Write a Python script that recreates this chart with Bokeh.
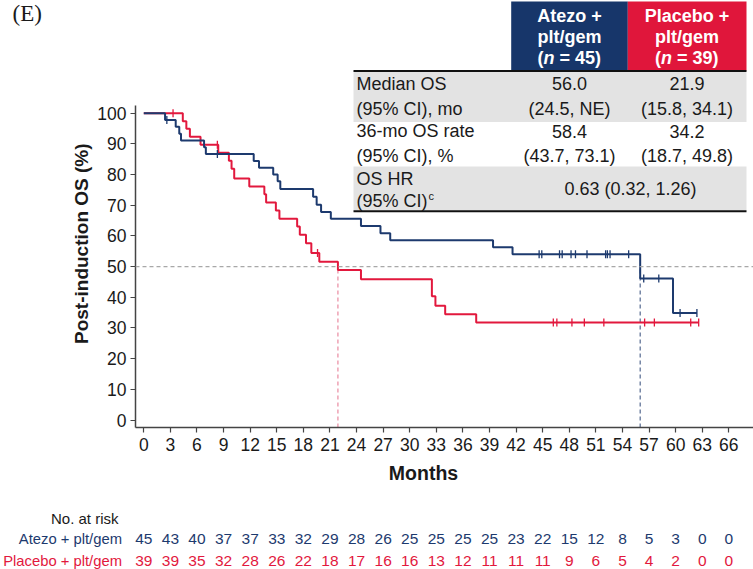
import math
from bokeh.plotting import figure
from bokeh.layouts import column, row
from bokeh.models import Range1d, Label, FixedTicker, Span
from bokeh.embed import file_html
from bokeh.resources import INLINE

# ---------------- data ----------------
month_ticks = list(range(0, 67, 3))
pct_ticks = list(range(0, 101, 10))

atezo_times = [0, 2.4, 3.6, 4.0, 4.2, 6.8, 7.0, 12.4, 13.0, 14.6, 15.1, 15.4, 19.1, 19.5,
               20.0, 21.1, 24.5, 26.7, 27.8, 39.4, 41.6, 56.0, 59.7]
atezo_surv = [100, 97.8, 95.6, 93.3, 91.1, 88.9, 86.7, 84.4, 82.2, 80.0, 77.8, 75.3, 72.8, 70.2,
              67.8, 65.6, 63.2, 60.9, 58.6, 56.3, 54.0, 46.1, 34.9]
atezo_last = 62.4
atezo_censor = [2.6, 8.3, 44.6, 44.9, 46.9, 47.2, 48.2, 48.7, 50.0, 52.1, 52.3, 52.6, 54.7,
                56.4, 58.1, 60.5, 62.4]

placebo_times = [0, 4.4, 4.8, 5.2, 6.4, 8.4, 9.6, 9.9, 10.2, 11.9, 13.6, 13.8, 14.9, 15.3,
                 17.3, 17.6, 18.3, 18.9, 19.8, 21.9, 24.5, 32.5, 32.9, 34.0, 37.5]
placebo_surv = [100, 97.4, 94.9, 92.3, 89.7, 87.1, 84.5, 81.9, 78.7, 76.1, 73.6, 70.9, 68.3, 65.6,
                63.1, 60.4, 57.6, 54.4, 51.6, 48.9, 45.9, 40.3, 37.2, 34.5, 31.8]
placebo_last = 62.6
placebo_censor = [3.3, 8.3, 19.6, 46.2, 46.6, 48.3, 49.7, 51.9, 56.5, 57.6, 61.7, 62.6]

atezo_median = 56.0
placebo_median = 21.9

atezo_risk = [45, 43, 40, 37, 37, 33, 32, 29, 28, 26, 25, 25, 25, 25, 23, 22, 15, 12, 8, 5, 3, 0, 0]
placebo_risk = [39, 39, 35, 32, 28, 26, 22, 18, 17, 16, 16, 13, 12, 11, 11, 11, 9, 6, 5, 4, 2, 0, 0]

arm_names = ["Atezo + plt/gem", "Placebo + plt/gem"]
header_line1 = ["Atezo +", "Placebo +"]
header_line2 = ["plt/gem", "plt/gem"]
header_n = [45, 39]
row_labels = [("Median OS", "(95% CI), mo"), ("36-mo OS rate", "(95% CI), %"), ("OS HR", "(95% CI)")]
median_os = ["56.0", "21.9"]
median_ci = ["(24.5, NE)", "(15.8, 34.1)"]
rate36 = ["58.4", "34.2"]
rate36_ci = ["(43.7, 73.1)", "(18.7, 49.8)"]
hr_text = "0.63 (0.32, 1.26)"

# ---------------- styling / layout ----------------
BLUE = "#1d3a6e"
RED = "#e2183d"
HDR_BLUE = "#17366a"
HDR_RED = "#e0163b"
GRAY = "#e3e3e3"
TXT = "#1a1a1a"
SANS = "Liberation Sans"

W, H = 753, 569


def X(px):  # page pixel -> months
    return (px - 143.3) / 8.864


def Y(py):  # page pixel -> percent
    return 100 - (py - 112.7) / 3.068


L = 94              # width of left strip (panel tag + y title)
FRAME_LEFT = 135
FRAME_BOTTOM = 427
H1 = 460            # height of top row
mbl = FRAME_LEFT - L
mbb = H1 - FRAME_BOTTOM
x_lo, x_hi = X(FRAME_LEFT), X(W)
y_lo, y_hi = Y(FRAME_BOTTOM), Y(0)


def bare(width, height, xr, yr):
    f = figure(width=width, height=height, output_backend="svg", toolbar_location=None,
               x_range=xr, y_range=yr, x_axis_type=None, y_axis_type=None,
               min_border=0, min_border_left=0, min_border_right=0,
               min_border_top=0, min_border_bottom=0)
    f.outline_line_color = None
    f.grid.visible = False
    return f


def text(f, x, y, s, size=18, color=TXT, align="left", style="normal", font=SANS, angle=0.0):
    f.add_layout(Label(x=x, y=y, text=s, text_font=font, text_font_size=f"{size}px",
                       text_color=color, text_align=align, text_baseline="middle",
                       text_font_style=style, angle=angle))


# ---------------- main plot ----------------
p = figure(width=W - L, height=H1, output_backend="svg", toolbar_location=None,
           x_range=Range1d(x_lo, x_hi), y_range=Range1d(y_lo, y_hi),
           min_border_left=mbl, min_border_right=0, min_border_top=0, min_border_bottom=mbb)
p.outline_line_color = None
p.grid.visible = False

for ax in (p.xaxis[0], p.yaxis[0]):
    ax.axis_line_color = "#444444"
    ax.axis_line_width = 1.5
    ax.major_tick_line_color = "#444444"
    ax.major_tick_line_width = 1.2
    ax.major_tick_in = 0
    ax.major_tick_out = 5
    ax.minor_tick_line_color = None
    ax.major_label_text_font = SANS
    ax.major_label_text_font_size = "17.5px"
    ax.major_label_text_color = TXT
p.xaxis.ticker = FixedTicker(ticks=month_ticks)
p.yaxis.ticker = FixedTicker(ticks=pct_ticks)
p.yaxis.bounds = (y_lo, Y(105))
p.xaxis.major_label_standoff = 5
p.yaxis.major_label_standoff = 4

# reference lines
p.add_layout(Span(location=50, dimension="width", line_color="#a8a8a8", line_width=1.2,
                  line_dash="4 3"))
p.segment(x0=[placebo_median], y0=[y_lo], x1=[placebo_median], y1=[50],
          line_color="#e98aa0", line_width=1.2, line_dash="4 3")
p.segment(x0=[atezo_median], y0=[y_lo], x1=[atezo_median], y1=[50],
          line_color="#52678f", line_width=1.2, line_dash="4 3")


def surv_at(times, surv, t):
    s = surv[0]
    for ti, si in zip(times, surv):
        if ti <= t:
            s = si
    return s


for times, surv, last, cens, col in [
    (placebo_times, placebo_surv, placebo_last, placebo_censor, RED),
    (atezo_times, atezo_surv, atezo_last, atezo_censor, BLUE),
]:
    p.step(x=times + [last], y=surv + [surv[-1]], mode="after", line_color=col, line_width=2)
    p.scatter(x=cens, y=[surv_at(times, surv, c) for c in cens], marker="dash",
              angle=math.pi / 2, size=8, line_color=col, line_width=1.3)

# summary table (page-pixel positions mapped through X / Y)
tl, tr = 353, 746
col_edges = [510.7, 627.3, 746]
col_centers = [569, 686.5]
p.quad(left=[X(col_edges[0])], right=[X(col_edges[1])], top=[Y(1)], bottom=[Y(70)],
       fill_color=HDR_BLUE, line_color=None)
p.quad(left=[X(col_edges[1])], right=[X(col_edges[2])], top=[Y(1)], bottom=[Y(70)],
       fill_color=HDR_RED, line_color=None)
p.quad(left=[X(tl)] * 2, right=[X(tr)] * 2, top=[Y(71), Y(166)], bottom=[Y(121.5), Y(210)],
       fill_color=GRAY, line_color=None)
p.segment(x0=[X(tl)] * 2, y0=[Y(70.5), Y(210.8)], x1=[X(tr)] * 2, y1=[Y(70.5), Y(210.8)],
          line_color="#111111", line_width=2)


def ptext(px, py, s, **kw):
    text(p, X(px), Y(py), s, **kw)


for i, cx in enumerate(col_centers):
    ptext(cx, 15.5, header_line1[i], color="white", align="center", style="bold")
    ptext(cx, 36.5, header_line2[i], color="white", align="center", style="bold")
    x0 = cx - 32
    ptext(x0, 57, "(", color="white", style="bold")
    ptext(x0 + 6.0, 57, "n", color="white", style="bold italic")
    ptext(x0 + 22.0, 57, f"= {header_n[i]})", color="white", style="bold")

row_y = [(83.3, 108.3), (130.5, 155.3), (178.3, 200.5)]
for (l1, l2), (y1, y2) in zip(row_labels, row_y):
    ptext(356, y1, l1)
    ptext(356, y2, l2)
ptext(428, 195, "c", size=11)

for i, cx in enumerate(col_centers):
    ptext(cx, row_y[0][0], median_os[i], align="center")
    ptext(cx, row_y[0][1], median_ci[i], align="center")
    ptext(cx, row_y[1][0], rate36[i], align="center")
    ptext(cx, row_y[1][1], rate36_ci[i], align="center")
ptext(630, 188.5, hr_text, align="center")

# ---------------- left strip: panel tag and y title (page-pixel coordinates) ----------------
left = bare(L, H1, Range1d(0, L), Range1d(H1, 0))
text(left, 12, 14, "(E)", size=23, font="Liberation Serif")
text(left, 80.5, 262, "Post-induction OS (%)", size=19, style="bold", align="center",
     angle=math.pi / 2)

# ---------------- bottom strip: x title and number at risk ----------------
bot = bare(W, H - H1, Range1d(X(0), X(W)), Range1d(H, H1))
text(bot, X(423), 472, "Months", size=19.5, style="bold", align="center")
text(bot, X(118), 518, "No. at risk", size=15, align="right")
text(bot, X(121.5), 538.5, arm_names[0], size=14.8, color=BLUE, align="right")
text(bot, X(121.5), 560.5, arm_names[1], size=14.8, color=RED, align="right")
for m, a, b in zip(month_ticks, atezo_risk, placebo_risk):
    text(bot, m, 538.5, str(a), size=15.5, color=BLUE, align="center")
    text(bot, m, 560.5, str(b), size=15.5, color=RED, align="center")

layout = column(row(left, p, spacing=0), bot, spacing=0)
open("out.html", "w").write(file_html(layout, INLINE))
